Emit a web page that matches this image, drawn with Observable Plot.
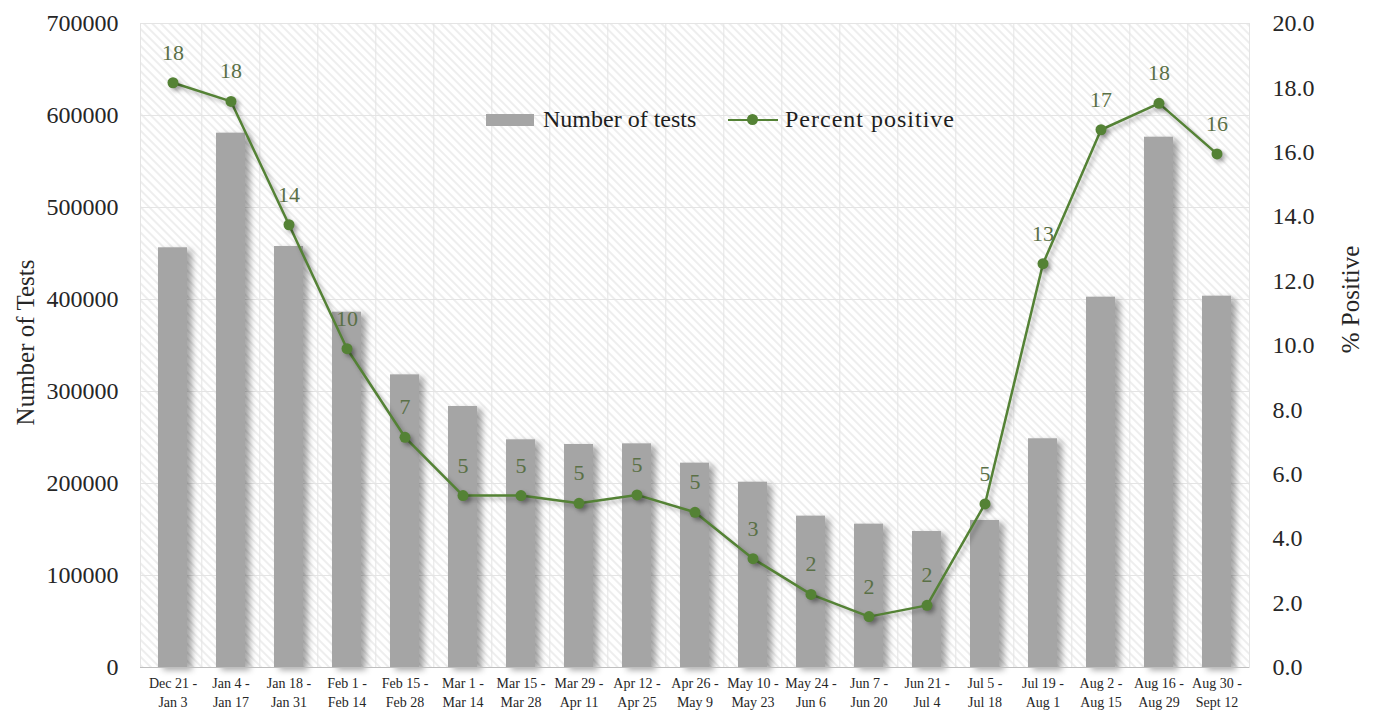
<!DOCTYPE html>
<html><head><meta charset="utf-8">
<script src="https://cdn.jsdelivr.net/npm/d3@7"></script>
<script src="https://cdn.jsdelivr.net/npm/@observablehq/plot@0.6"></script>
<style>
body{margin:0;background:#fff;}
#wrap{position:relative;width:1379px;height:711px;font-family:"Liberation Serif",serif;}
#wrap svg{position:absolute;left:0;top:0;}
.legend{position:absolute;top:106px;display:flex;align-items:center;font-size:24px;color:#1e1e1e;white-space:nowrap;}
.sw-bar{display:inline-block;width:48px;height:12px;background:#a5a5a5;margin-right:9px;}
.sw-line{position:relative;display:inline-block;width:50px;height:12px;margin-right:7px;}
.sw-line:before{content:"";position:absolute;left:0;right:0;top:5px;height:2.5px;background:#548235;}
.sw-line:after{content:"";position:absolute;left:19px;top:0.5px;width:11px;height:11px;border-radius:50%;background:#548235;}
</style></head><body><div id="wrap"></div>
<script>
const periods = [
  "Dec 21 -\nJan 3", "Jan 4 -\nJan 17", "Jan 18 -\nJan 31", "Feb 1 -\nFeb 14", "Feb 15 -\nFeb 28",
  "Mar 1 -\nMar 14", "Mar 15 -\nMar 28", "Mar 29 -\nApr 11", "Apr 12 -\nApr 25", "Apr 26 -\nMay 9",
  "May 10 -\nMay 23", "May 24 -\nJun 6", "Jun 7 -\nJun 20", "Jun 21 -\nJul 4", "Jul 5 -\nJul 18",
  "Jul 19 -\nAug 1", "Aug 2 -\nAug 15", "Aug 16 -\nAug 29", "Aug 30 -\nSept 12"
];
const numberOfTests = [
  456200, 580800, 457600, 386200, 318100, 283700, 247500, 242400, 243100, 222100,
  201400, 164500, 155800, 147800, 159800, 248600, 402500, 576400, 403600
];
const percentPositive = [
  18.16, 17.58, 13.75, 9.90, 7.15, 5.34, 5.34, 5.10, 5.36, 4.82,
  3.38, 2.27, 1.58, 1.93, 5.08, 12.54, 16.70, 17.52, 15.95
];
const testTicks = [0, 100000, 200000, 300000, 400000, 500000, 600000, 700000];
const pctTicks = [0, 2, 4, 6, 8, 10, 12, 14, 16, 18, 20];

const PCT = 35000; // 20 % positive maps onto 700000 tests
const data = periods.map((p, i) => ({period: p, tests: numberOfTests[i], pct: percentPositive[i]}));

const W = 1379, H = 711, mL = 140, mR = 130, mT = 23, mB = 44;
const step = (W - mL - mR) / periods.length;
const grid = "#e4e4e4";
const green = "#548235";

const chart = Plot.plot({
  width: W, height: H,
  marginLeft: mL, marginRight: mR, marginTop: mT, marginBottom: mB,
  style: {fontFamily: "'Liberation Serif', serif", background: "transparent", overflow: "visible", color: "#262626"},
  x: {type: "band", domain: periods, paddingInner: 0.5, paddingOuter: 0.25},
  y: {domain: [0, 700000]},
  marks: [
    Plot.frame({fill: "url(#hatch)", stroke: grid}),
    Plot.gridY(testTicks, {stroke: grid, strokeOpacity: 1}),
    Plot.ruleX(periods.slice(1), {dx: -step / 2, stroke: grid}),
    Plot.barY(data, {x: "period", y: "tests", fill: "#a5a5a5"}),
    Plot.ruleY([0], {stroke: "#bfbfbf"}),
    Plot.line(data, {x: "period", y: d => d.pct * PCT, stroke: green, strokeWidth: 2.5}),
    Plot.dot(data, {x: "period", y: d => d.pct * PCT, r: 5.5, fill: green}),
    Plot.text(data, {x: "period", y: d => d.pct * PCT, text: d => String(Math.round(d.pct)), dy: -30, fontSize: 22, fill: "#5a7046"}),
    Plot.axisY({ticks: testTicks, tickFormat: d3.format("d"), tickSize: 0, tickPadding: 22, fontSize: 24, label: null}),
    Plot.axisY({anchor: "right", ticks: pctTicks.map(v => v * PCT), tickFormat: d => (d / PCT).toFixed(1), tickSize: 0, tickPadding: 23, fontSize: 24, label: null}),
    Plot.axisX({tickSize: 0, tickPadding: 8, fontSize: 14, lineHeight: 1.3, label: null}),
    Plot.text(["Number of Tests"], {frameAnchor: "left", textAnchor: "middle", dx: -115, dy: -3, rotate: -90, fontSize: 25, fill: "#262626"}),
    Plot.text(["% Positive"], {frameAnchor: "right", textAnchor: "middle", dx: 101, dy: -46, rotate: -90, fontSize: 25, fill: "#262626"})
  ]
});

// hatch pattern for the plot area
const svg = d3.select(chart);
const defs = svg.insert("defs", ":first-child");
const pat = defs.append("pattern").attr("id", "hatch").attr("patternUnits", "userSpaceOnUse")
  .attr("width", 6).attr("height", 6).attr("patternTransform", "rotate(-45)");
pat.append("rect").attr("width", 6).attr("height", 6).attr("fill", "#ffffff");
pat.append("line").attr("x1", 1).attr("y1", 0).attr("x2", 1).attr("y2", 6).attr("stroke", "#eeeeee").attr("stroke-width", 2);

// soft shadows like the original
svg.selectAll("g[aria-label='bar']").style("filter", "drop-shadow(5px 3px 3px rgba(0,0,0,0.35))");
svg.selectAll("g[aria-label='line'], g[aria-label='dot']").style("filter", "drop-shadow(3px 3px 2px rgba(0,0,0,0.3))");

const wrap = document.getElementById("wrap");
wrap.appendChild(chart);

// legend inside the plot area
const lg1 = document.createElement("div");
lg1.className = "legend"; lg1.style.left = "486px";
lg1.innerHTML = '<span class="sw-bar"></span>Number of tests';
const lg2 = document.createElement("div");
lg2.className = "legend"; lg2.style.left = "728px"; lg2.style.letterSpacing = "1px";
lg2.innerHTML = '<span class="sw-line"></span>Percent positive';
wrap.appendChild(lg1); wrap.appendChild(lg2);
</script>
</body></html>
